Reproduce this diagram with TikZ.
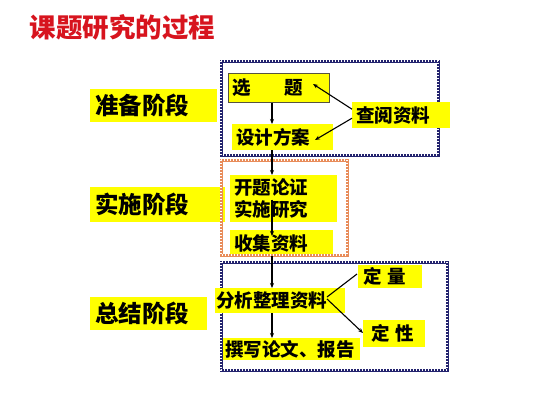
\documentclass[tikz,border=0pt]{standalone}
\usepackage{fontspec}
\newfontfamily\cjk{Noto Sans CJK SC}
\usetikzlibrary{arrows.meta,calc}
\definecolor{ttl}{RGB}{215,20,30}
\definecolor{navyb}{RGB}{35,35,110}
\definecolor{orangeb}{RGB}{232,140,90}
\definecolor{ylw}{RGB}{255,255,0}
\tikzset{
  stagebox/.style={fill=ylw, inner xsep=5pt, inner ysep=0pt, align=left, font=\cjk\bfseries\fontsize{23.5}{26}\selectfont, anchor=west, minimum height=33pt},
  itembox/.style={fill=ylw, inner xsep=4pt, inner ysep=0pt, align=left, font=\cjk\bfseries\fontsize{18.5}{22}\selectfont, anchor=north west},
  conn/.style={draw=black, line width=1.1pt},
  arr/.style={conn, -{Stealth[length=5pt,width=4pt]}},
}
\newcommand{\wavybox}[3]{%
  \draw[#1, line width=3pt] #2 rectangle #3;
  \draw[white, line width=1.1pt, dash pattern=on 1pt off 2pt] #2 rectangle #3;
}
\begin{document}
\begin{tikzpicture}[x=1pt,y=-1pt]
\useasboundingbox[fill=white] (0,0) rectangle (533,400);
% title
\node[text=ttl, font=\cjk\bfseries\fontsize{26.5}{30}\selectfont, anchor=west] (title) at (26,27) {课题研究的过程};
% stage labels
\node[stagebox, text width=117pt, minimum height=33pt] (s1) at (90,105.5) {准备阶段};
\node[stagebox, text width=125pt, minimum height=35pt] (s2) at (90,204.5) {实施阶段};
\node[stagebox, text width=107pt, minimum height=33pt] (s3) at (90,313.5) {总结阶段};
% group boxes
\wavybox{navyb}{(221,61)}{(438,155)}
\wavybox{navyb}{(221,262)}{(447,370)}
% items
\node[itembox, draw=black!60!yellow!60!black, line width=0.6pt, text width=93pt, minimum height=29pt, inner xsep=4pt] (xt) at (228,73) {选\hspace{34pt}题};
\node[itembox, text width=90pt, minimum height=26pt] (cy) at (352,102) {查阅资料};
\node[itembox, text width=93pt, minimum height=26pt] (sj) at (232,124) {设计方案};
\node[itembox, text width=99pt, minimum height=47pt] (kt) at (230,175) {开题论证\\实施研究};
\node[itembox, text width=95pt, minimum height=26pt] (sz) at (230,230) {收集资料};
\node[itembox, text width=128pt, minimum height=25pt, inner xsep=1pt] (fx) at (215,288) {分析整理资料};
\node[itembox, text width=54pt, minimum height=23pt, inner xsep=5pt] (dl) at (358,265) {定\hspace{6pt}量};
\node[itembox, text width=52pt, minimum height=27pt, inner xsep=5pt, inner ysep=2pt] (dx) at (363,320) {\hspace{3pt}定\hspace{6pt}性};
\node[itembox, text width=133pt, minimum height=22pt, inner xsep=2pt] (zx) at (223,338) {撰写论文、报告};
\wavybox{orangeb}{(221,160)}{(347,255)}
% connectors
\coordinate (ax) at (272,0);
\coordinate (t1) at (313,84);
\coordinate (t2) at (315,140);
\coordinate (f0) at (327,297);
\coordinate (t3) at (357,274);
\coordinate (t4) at (363,333);
\draw[arr] (xt.south -| ax) -- (sj.north -| ax);
\draw[arr] (sj.south -| ax) -- (kt.north -| ax);
\draw[arr] ($(kt.center -| ax)+(0,1)$) -- ($(sz.north -| ax)+(0,6)$);
\draw[arr] (sz.south -| ax) -- (fx.north -| ax);
\draw[arr] (fx.south -| ax) -- (zx.north -| ax);
\draw[arr] ($(cy.west)+(0,-6)$) -- (t1);
\draw[arr] ($(cy.west)+(0,3)$) -- (t2);
\draw[conn] (f0) -- (t3);
\draw[arr] ($(f0)+(0,2)$) -- (t4);
\end{tikzpicture}
\end{document}
